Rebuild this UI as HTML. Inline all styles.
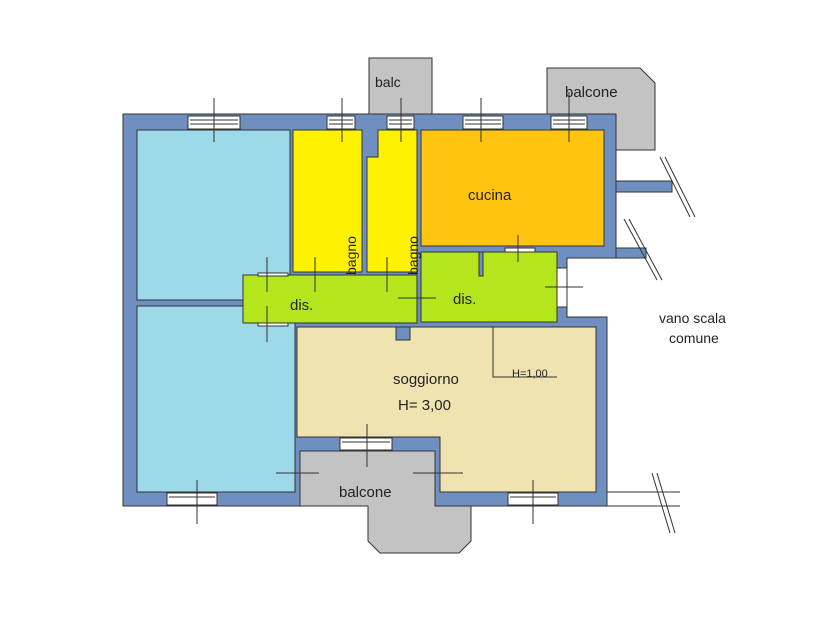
<!DOCTYPE html>
<html><head><meta charset="utf-8"><style>
html,body{margin:0;padding:0;background:#fff;width:840px;height:630px;overflow:hidden}
text{font-family:"Liberation Sans",sans-serif;fill:#222}
</style></head><body>
<svg width="840" height="630" viewBox="0 0 840 630" xmlns="http://www.w3.org/2000/svg">
<g stroke="#333" stroke-width="1">
<rect x="369" y="58" width="63" height="58" fill="#c3c3c3"/>
<polygon points="547,68 640,68 655,83 655,150 616,150 616,114 547,114" fill="#c3c3c3"/>
<polygon points="123,114 616,114 616,258 567,258 567,317 607,317 607,506 123,506" fill="#6f8fc1"/>
<rect x="616" y="181" width="56" height="11" fill="#6f8fc1"/>
<rect x="616" y="248" width="30" height="10" fill="#6f8fc1"/>
<rect x="137" y="130" width="153" height="170" fill="#9dd9e9"/>
<rect x="137" y="306" width="158" height="186" fill="#9dd9e9"/>
<rect x="293" y="130" width="69" height="142" fill="#fff200"/>
<polygon points="378,130 417,130 417,272 367,272 367,157 378,157" fill="#fff200"/>
<rect x="421" y="130" width="183" height="116" fill="#fec410"/>
<rect x="243" y="275" width="174" height="48" fill="#b5e61d"/>
<rect x="421" y="252" width="136" height="70" fill="#b5e61d"/>
<rect x="479" y="252" width="4" height="24" fill="#6f8fc1"/>
<polygon points="297,327 596,327 596,492 440,492 440,437 297,437" fill="#efe4b0"/>
<rect x="396" y="327" width="14" height="13" fill="#6f8fc1"/>
<polygon points="300,451 435,451 435,506 471,506 471,541 459,553 380,553 368,541 368,506 300,506" fill="#c3c3c3"/>
<rect x="557" y="268" width="10" height="39" fill="#fff"/>
</g>
<g fill="#fff" stroke="#333" stroke-width="1">
<rect x="188" y="116" width="52" height="13"/>
<rect x="327" y="116" width="28" height="13"/>
<rect x="387" y="116" width="27" height="13"/>
<rect x="463" y="116" width="40" height="13"/>
<rect x="551" y="116" width="36" height="13"/>
<rect x="167" y="493" width="50" height="12"/>
<rect x="508" y="493" width="50" height="12"/>
<rect x="340" y="438" width="52" height="12"/>
<rect x="258" y="273" width="30" height="3"/>
<rect x="258" y="323" width="30" height="3"/>
<rect x="505" y="248" width="30" height="4"/>
</g>
<g stroke="#333" stroke-width="1" fill="none">
<line x1="190" y1="120" x2="238" y2="120"/><line x1="190" y1="124" x2="238" y2="124"/>
<line x1="329" y1="120" x2="353" y2="120"/><line x1="329" y1="124" x2="353" y2="124"/>
<line x1="389" y1="120" x2="412" y2="120"/><line x1="389" y1="124" x2="412" y2="124"/>
<line x1="465" y1="120" x2="501" y2="120"/><line x1="465" y1="124" x2="501" y2="124"/>
<line x1="553" y1="120" x2="585" y2="120"/><line x1="553" y1="124" x2="585" y2="124"/>
<line x1="169" y1="497" x2="215" y2="497"/><line x1="510" y1="497" x2="556" y2="497"/>
<line x1="342" y1="442" x2="390" y2="442"/>
<line x1="214" y1="98" x2="214" y2="142"/>
<line x1="342" y1="98" x2="342" y2="142"/>
<line x1="401" y1="98" x2="401" y2="142"/>
<line x1="481" y1="98" x2="481" y2="142"/>
<line x1="569" y1="92" x2="569" y2="142"/>
<line x1="267" y1="257" x2="267" y2="292"/><line x1="267" y1="306" x2="267" y2="342"/>
<line x1="315" y1="257" x2="315" y2="292"/>
<line x1="387" y1="257" x2="387" y2="292"/>
<line x1="398" y1="298" x2="436" y2="298"/>
<line x1="518" y1="235" x2="518" y2="262"/>
<line x1="545" y1="287" x2="583" y2="287"/>
<line x1="367" y1="424" x2="367" y2="467"/>
<line x1="276" y1="473" x2="319" y2="473"/>
<line x1="413" y1="473" x2="463" y2="473"/>
<line x1="197" y1="480" x2="197" y2="524"/>
<line x1="533" y1="480" x2="533" y2="524"/>
<polyline points="493,327 493,377 557,377"/>
<line x1="607" y1="492" x2="680" y2="492"/>
<line x1="607" y1="506" x2="680" y2="506"/>
<line x1="652" y1="473" x2="670" y2="533"/><line x1="657" y1="473" x2="675" y2="533"/>
<line x1="660" y1="157" x2="690" y2="217"/><line x1="665" y1="157" x2="695" y2="217"/>
<line x1="624" y1="219" x2="657" y2="280"/><line x1="629" y1="219" x2="662" y2="280"/>
</g>
<text x="375" y="87" font-size="14">balc</text>
<text x="565" y="97" font-size="15">balcone</text>
<text x="468" y="200" font-size="15">cucina</text>
<text x="290" y="310" font-size="15">dis.</text>
<text x="453" y="304" font-size="15">dis.</text>
<text x="393" y="384" font-size="15">soggiorno</text>
<text x="398" y="410" font-size="15">H= 3,00</text>
<text x="512" y="377" font-size="11">H=1,00</text>
<text x="339" y="497" font-size="15">balcone</text>
<text x="659" y="323" font-size="14">vano scala</text>
<text x="669" y="343" font-size="14">comune</text>
<text transform="translate(356,275) rotate(-90)" font-size="14">bagno</text>
<text transform="translate(418,275) rotate(-90)" font-size="14">bagno</text>
</svg>
</body></html>
